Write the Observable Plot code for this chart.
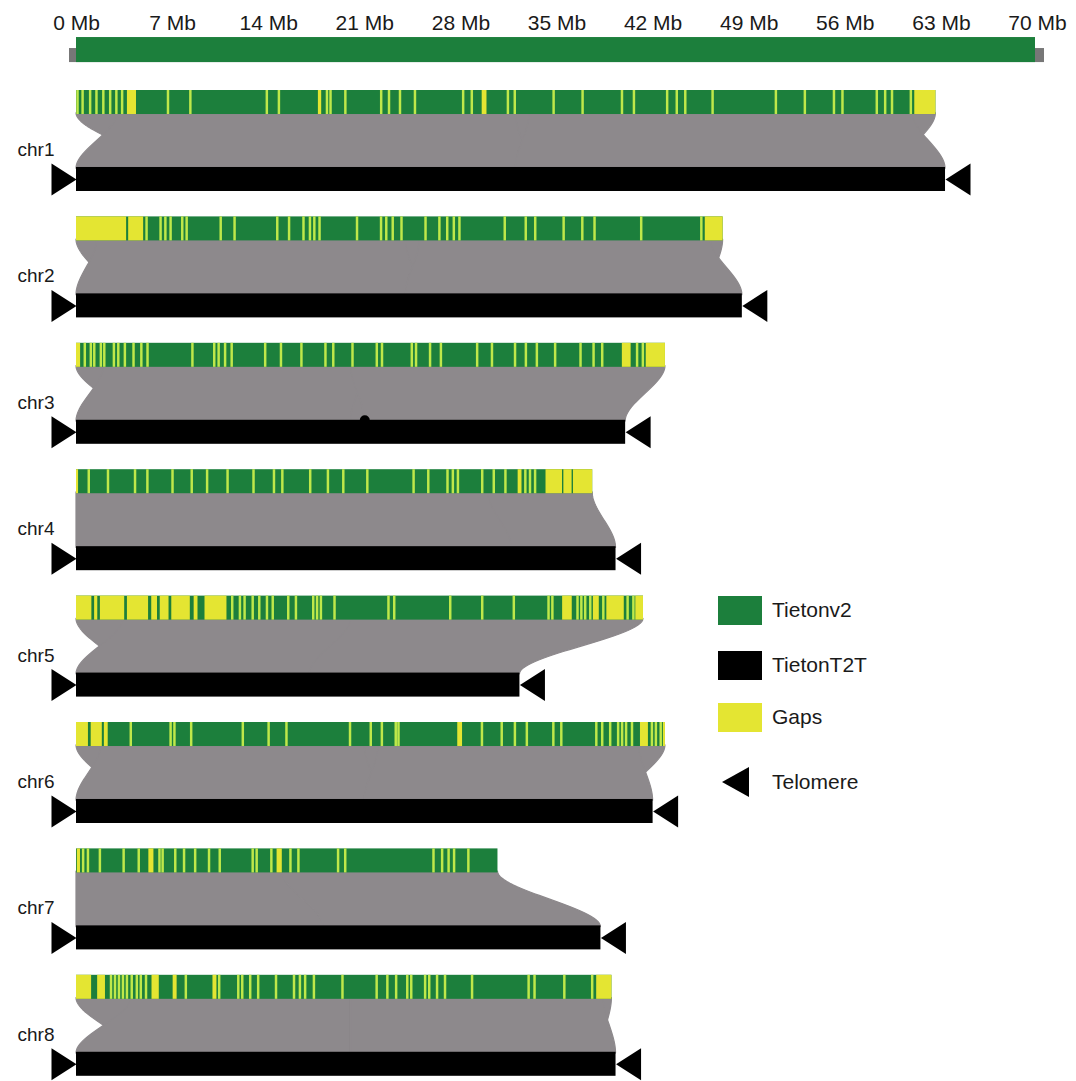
<!DOCTYPE html>
<html>
<head>
<meta charset="utf-8">
<script src="https://cdn.jsdelivr.net/npm/d3@7"></script>
<script src="https://cdn.jsdelivr.net/npm/@observablehq/plot@0.6"></script>
<style>
  body { margin: 0; background: #fff; font-family: "Liberation Sans", Arial, sans-serif; }
  #wrap { position: relative; width: 1076px; height: 1081px; overflow: hidden; }
  #legend { position: absolute; left: 718px; top: 595px; }
  .item { position: absolute; left: 0; height: 30px; display: flex; align-items: center; }
  .sw { width: 44px; height: 29px; flex: none; }
  .lab { margin-left: 10px; font-size: 21px; color: #1a1a1a; white-space: nowrap; }
</style>
</head>
<body>
<div id="wrap"><div id="legend"></div></div>
<script>
// Chromosomes and assembly lengths (Mb)
const chromosomes = ["chr1", "chr2", "chr3", "chr4", "chr5", "chr6", "chr7", "chr8"];
const v2Length  = [62.6, 47.1, 42.9, 37.6, 41.3, 42.9, 30.7, 39.0];
const t2tLength = [63.3, 48.5, 40.0, 39.3, 32.3, 42.0, 38.2, 39.3];

// Top scale
const tickMb = [0, 7, 14, 21, 28, 35, 42, 49, 56, 63, 70];
const scaleBar = [{start: 0, end: 70}];

// Gaps in Tietonv2 (Mb): a pair is a gap block, a single number a narrow gap
const gapsChr1 = [0.11, 0.48, 1.03, 1.49, 1.99, 2.49, 2.94, 3.36, [3.71, 4.37], 6.70, 8.33, 13.9, 14.78,
  [17.62, 17.86], 18.28, 18.54, 19.62, 22.23, 22.8, 23.6, 24.69, 28.2, 28.83, [29.55, 29.9], 31.46, 31.96,
  34.79, 36.9, 39.77, 40.64, 43.06, 43.76, 44.38, 46.37, 50.98, 53.09, 55.21, 55.83, 58.33, 58.94, 59.44,
  60.81, [61.06, 62.6]];
const gapsChr2 = [[0, 3.65], [3.8, 4.89], 5.14, 6.16, 6.51, 6.89, 7.74, 8.06, 10.54, 11.55, 14.66, 15.52,
  16.57, 17.04, 17.36, 17.74, 20.47, 22.22, 22.6, 23.07, 23.71, 25.46, 26.47, 27.04, 27.52, 27.93, 31.23,
  32.76, 33.45, 35.52, 36.88, 37.77, 41.17, 45.55, [45.8, 47.1]];
const gapsChr3 = [[0, 0.3], 0.64, 1.08, 1.33, 1.81, 2.06, 2.76, 3.08, 3.56, 4.19, 4.76, 5.21, 8.48, 10.07,
  10.39, 10.86, 11.34, 13.78, 14.93, 16.42, 18.17, 18.74, 20.14, 21.91, 22.29, 24.46, 24.77, 25.79, 26.58,
  29.22, 30.3, 31.98, 32.77, 33.57, 34.9, 36.75, 37.7, 38.33, [39.76, 40.4], 40.87, 41.29, [41.5, 42.9]];
const gapsChr4 = [[0, 0.15], 0.93, 2.33, 4.3, 5.2, 7.03, 8.43, 9.55, 11.04, 12.93, 14.42, 15.03, 17.06,
  18.35, 19.47, 21.22, 24.59, 25.66, 27.06, 27.45, 27.82, 29.59, 30.43, 31.28, [32.17, 32.45], 32.73,
  33.07, 33.44, [34.2, 35.4], [35.5, 36.1], [36.2, 37.6]];
const gapsChr5 = [[0, 1.12], [1.32, 1.55], [1.74, 3.51], [3.71, 5.25], [5.48, 5.9], [6.1, 6.74],
  [6.94, 8.29], [8.57, 8.85], [9.36, 10.96], 11.38, 11.94, 12.28, 12.87, 13.35, 13.91, 14.33, 15.46,
  16.02, 17.28, 17.56, 17.84, 18.83, 22.76, 23.18, 27.26, 29.59, 31.89, 34.42, 34.7, [35.41, 36.11],
  36.53, 36.81, 37.09, 37.46, [37.65, 38.08], 38.41, [38.63, 39.9], 40.18, 40.6, [40.74, 41.3]];
const gapsChr6 = [[0, 0.87], [1.07, 1.88], [2.03, 2.31], 3.99, 6.89, 7.17, 8.39, 12.15, 14.03, 15.33,
  19.96, 21.47, 22.28, 23.29, 23.49, [27.77, 28.12], 29.57, 31.01, 31.97, 32.84, 34.77, 35.35, 37.9,
  38.33, 38.91, 39.49, 39.78, 40.07, 40.5, [41.08, 41.66], 41.95, 42.24, 42.59, [42.75, 42.9]];
const gapsChr7 = [[0.06, 0.29], 0.52, 0.87, 1.74, 3.47, 4.57, [5.27, 5.64], 6.08, 6.31, 7.23, 7.87, 8.68,
  9.69, 10.47, 12.87, 13.16, 14.23, [14.61, 14.99], 15.62, 16.2, 19.09, 19.61, 26.04, 26.67, 27.14,
  27.54, 28.58];
const gapsChr8 = [[0, 1.1], [1.54, 2.11], 2.55, 2.84, 3.13, 3.42, 3.71, 4.06, 4.43, 4.72, 5.1, [5.5, 6.03],
  [7.04, 7.33], 8.0, [9.94, 10.23], 10.43, 11.82, 12.11, 12.69, 13.27, 14.57, 15.88, 16.31, 16.69, 17.33,
  19.41, 21.9, 22.68, 23.32, 24.13, 24.42, 25.43, 25.73, 26.3, 26.88, 28.85, 32.97, 33.4, 35.57, 37.6,
  [37.89, 39.0]];
const gapsByChr = [gapsChr1, gapsChr2, gapsChr3, gapsChr4, gapsChr5, gapsChr6, gapsChr7, gapsChr8];

// Syntenic blocks: [v2 start, v2 end, T2T start, T2T end] (Mb)
const linksChr1 = [[0, 32, 5.5, 33], [3, 33, 0, 32], [32, 62.6, 33, 60.0], [33, 60.9, 32, 63.3]];
const linksChr2 = [[0, 24, 2.5, 25], [1.5, 25, 0, 24], [24, 47.1, 25, 46.0], [25, 46.2, 24, 48.5]];
const linksChr3 = [[0, 20, 3.5, 21], [2, 21, 0, 20], [20, 42.9, 21, 40.0]];
const linksChr4 = [[0, 37.3, 0, 37.3], [30, 37.6, 31.7, 39.3]];
const linksChr5 = [[0, 20, 3.4, 18], [3.4, 21, 0, 17], [20, 41.3, 17, 32.3]];
const linksChr6 = [[0, 21, 3.2, 22], [1.8, 22, 0, 21], [21, 42.9, 22, 40.0], [22, 41.0, 21, 42.0]];
const linksChr7 = [[0, 15, 0, 18], [15, 30.7, 18, 38.2]];
const linksChr8 = [[0, 20, 4, 20], [4, 20, 0, 20], [20, 39.0, 20, 38.2], [20, 38.4, 20, 39.3]];
const linksByChr = [linksChr1, linksChr2, linksChr3, linksChr4, linksChr5, linksChr6, linksChr7, linksChr8];

// Small T2T feature on chr3
const t2tMarks = [{chr: "chr3", pos: 21.0}];

// ---- layout within one chromosome track (track units, 1 = one chromosome row)
const track = {barH: 0.19, blackTop: 0.609, label: 0.47};
const NARROW = 0.18; // drawn width of a narrow gap, Mb
const colors = {green: "#1c7f3c", yellow: "#e4e532", lime: "#bfe84a", gray: "#8d898c", ink: "#1a1a1a"};

const rows = chromosomes.map((name, i) => ({name, row: i, v2: v2Length[i], t2t: t2tLength[i]}));

const gapRects = gapsByChr.flatMap((gaps, i) => gaps.map(g => {
  const [s, e] = Array.isArray(g) ? g : [g - NARROW / 2, g + NARROW / 2];
  return {row: i, start: Math.max(0, s), end: e, narrow: !Array.isArray(g)};
}));

// ribbon outline: each side eases from the v2 coordinate to the T2T coordinate
const ease = t => t * t * (3 - 2 * t);
const STEPS = 32;
const ribbonPts = linksByChr.flatMap((links, i) => links.flatMap(([a1, b1, a2, b2], k) =>
  d3.range(STEPS + 1).map(s => {
    const t = s / STEPS, e = ease(t);
    return {
      id: `${i}-${k}`,
      y: i + track.barH - 0.01 + t * (track.blackTop - track.barH + 0.02),
      x1: a1 + (a2 - a1) * e,
      x2: b1 + (b2 - b1) * e
    };
  })));

// telomere arrowheads: tip at the chromosome end
const triRight = {draw(ctx) { ctx.moveTo(0, 0); ctx.lineTo(-25, -16); ctx.lineTo(-25, 16); ctx.closePath(); }};
const triLeft  = {draw(ctx) { ctx.moveTo(0, 0); ctx.lineTo(25, -16); ctx.lineTo(25, 16); ctx.closePath(); }};
const blackMid = d => d.row + (track.blackTop + track.barH / 2);

const chart = Plot.plot({
  width: 1076,
  height: 1081,
  margin: 0,
  x: {domain: [0, 70], range: [76, 1037], axis: null},
  y: {domain: [0, 8], range: [90, 1101.2], axis: null},
  style: {fontFamily: '"Liberation Sans", Arial, sans-serif', background: "#fff"},
  marks: [
    // scale bar with its shadow
    Plot.rect(scaleBar, {x1: "start", x2: "end", y1: () => -0.419, y2: () => -0.221,
      insetLeft: -7, insetRight: -7, insetTop: 11, fill: "#777"}),
    Plot.rect(scaleBar, {x1: "start", x2: "end", y1: () => -0.419, y2: () => -0.221, insetRight: 2, fill: colors.green}),
    Plot.text(tickMb, {x: d => d, y: () => -0.534, text: d => `${d} Mb`, fontSize: 21, fill: colors.ink}),

    // synteny ribbons (stroked in their own colour so adjoining blocks merge)
    Plot.areaX(ribbonPts, {y: "y", x1: "x1", x2: "x2", z: "id", fill: colors.gray,
      stroke: colors.gray, strokeWidth: 1.2, curve: "linear"}),

    // Tietonv2 bars and gaps
    Plot.rect(rows, {x1: () => 0, x2: "v2", y1: "row", y2: d => d.row + track.barH, fill: colors.green}),
    Plot.rect(gapRects.filter(d => !d.narrow), {x1: "start", x2: "end", y1: "row", y2: d => d.row + track.barH, fill: colors.yellow}),
    Plot.rect(gapRects.filter(d => d.narrow), {x1: "start", x2: "end", y1: "row", y2: d => d.row + track.barH, fill: colors.lime}),

    // TietonT2T bars
    Plot.rect(rows, {x1: () => 0, x2: "t2t", y1: d => d.row + track.blackTop, y2: d => d.row + track.blackTop + track.barH, fill: "#000"}),
    Plot.dot(t2tMarks, {x: "pos", y: d => chromosomes.indexOf(d.chr) + track.blackTop, r: 5, fill: "#000", stroke: "none"}),

    // telomeres
    Plot.dot(rows, {x: () => 0, y: blackMid, symbol: triRight, fill: "#000", stroke: "none"}),
    Plot.dot(rows, {x: "t2t", y: blackMid, symbol: triLeft, fill: "#000", stroke: "none"}),

    // chromosome names
    Plot.text(rows, {frameAnchor: "left", dx: 17, textAnchor: "start", y: d => d.row + track.label,
      text: "name", fontSize: 19, fill: colors.ink})
  ]
});
document.getElementById("wrap").prepend(chart);

// legend
const legendItems = [
  {label: "Tietonv2", top: 0, kind: "box", color: colors.green},
  {label: "TietonT2T", top: 55, kind: "box", color: "#000"},
  {label: "Gaps", top: 107, kind: "box", color: colors.yellow},
  {label: "Telomere", top: 172, kind: "tri", color: "#000"}
];
const legend = d3.select("#legend");
for (const it of legendItems) {
  const row = legend.append("div").attr("class", "item").style("top", it.top + "px");
  if (it.kind === "box") {
    row.append("div").attr("class", "sw").style("background", it.color);
  } else {
    const svg = row.append("svg").attr("width", 44).attr("height", 30).style("flex", "none");
    svg.append("path").attr("d", "M4,15L31,0L31,30Z").attr("fill", it.color);
  }
  row.append("span").attr("class", "lab").text(it.label);
}
</script>
</body>
</html>
